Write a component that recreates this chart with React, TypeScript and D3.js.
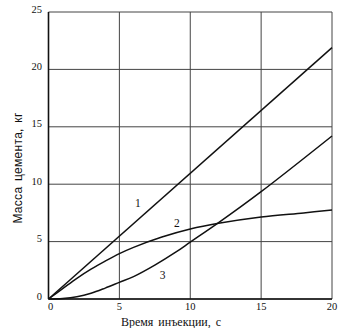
import React from "react";
import * as d3 from "d3";

const xTicks = [0, 5, 10, 15, 20];
const yTicks = [0, 5, 10, 15, 20, 25];

const series1X = [0, 20];
const series1Y = [0, 21.9];

const series2X = [0, 1, 2, 3, 4, 5, 6, 8, 10, 12, 15, 18, 20];
const series2Y = [0, 0.9, 1.8, 2.6, 3.3, 3.95, 4.5, 5.4, 6.1, 6.6, 7.15, 7.5, 7.75];

const series3X = [0, 1, 2, 3, 4, 5, 6, 7.5, 9, 10, 12, 15, 20];
const series3Y = [0, 0.05, 0.2, 0.5, 0.95, 1.45, 1.95, 2.95, 4.1, 4.95, 6.65, 9.35, 14.2];

const curveLabels = ["1", "2", "3"];
const labelX = [6.3, 9.05, 8.05];
const labelY = [8.4, 6.6, 2.1];

const xTitle = "Время инъекции, с";
const yTitle = "Масса цемента, кг";

export default function App() {
  const W = 342, H = 328;
  const x = d3.scaleLinear().domain([0, 20]).range([48.5, 332]);
  const y = d3.scaleLinear().domain([0, 25]).range([299, 12]);
  const line = d3
    .line<[number, number]>()
    .x((d) => x(d[0]))
    .y((d) => y(d[1]))
    .curve(d3.curveCatmullRom.alpha(0.5));
  const mk = (xs: number[], ys: number[]) => xs.map((v, i) => [v, ys[i]] as [number, number]);
  const series = [mk(series1X, series1Y), mk(series2X, series2Y), mk(series3X, series3Y)];
  const font = "'Liberation Serif', 'DejaVu Serif', serif";
  return (
    <svg
      width={W}
      height={H}
      style={{ position: "absolute", left: 0, top: 0, background: "#fff" }}
      fontFamily={font}
    >
      <rect x={0} y={0} width={W} height={H} fill="#fff" />
      {xTicks.map((t) => (
        <line key={"vx" + t} x1={x(t)} x2={x(t)} y1={y(0)} y2={y(25)} stroke="#444" strokeWidth={1} />
      ))}
      {yTicks.map((t) => (
        <line key={"hy" + t} x1={x(0)} x2={x(20)} y1={y(t)} y2={y(t)} stroke="#444" strokeWidth={1} />
      ))}
      <line x1={x(0)} x2={x(0)} y1={y(0)} y2={y(25)} stroke="#111" strokeWidth={1.6} />
      <line x1={x(0)} x2={x(20)} y1={y(0)} y2={y(0)} stroke="#111" strokeWidth={1.4} />
      {series.map((s, i) => (
        <path key={i} d={line(s) || ""} fill="none" stroke="#111" strokeWidth={1.5} />
      ))}
      {yTicks.map((t) => (
        <text key={"yl" + t} x={42} y={y(t) + 0.5} textAnchor="end" fontSize={10.5} fill="#111">
          {t}
        </text>
      ))}
      {xTicks.map((t) => (
        <text key={"xl" + t} x={x(t) + (t === 0 ? 2 : 0)} y={310} textAnchor="middle" fontSize={10.5} fill="#111">
          {t}
        </text>
      ))}
      {curveLabels.map((l, i) => (
        <text
          key={"cl" + l}
          x={x(labelX[i])}
          y={y(labelY[i])}
          textAnchor="middle"
          dominantBaseline="central"
          fontSize={11.5}
          fill="#111"
        >
          {l}
        </text>
      ))}
      <text x={171} y={326} textAnchor="middle" fontSize={12} fill="#111" wordSpacing={2}>
        {xTitle}
      </text>
      <text
        transform={`translate(22,168) rotate(-90)`}
        textAnchor="middle"
        fontSize={12}
        fontFamily="'Liberation Sans', Arial, sans-serif"
        letterSpacing={0.3}
        wordSpacing={2}
        fill="#111"
      >
        {yTitle}
      </text>
    </svg>
  );
}
